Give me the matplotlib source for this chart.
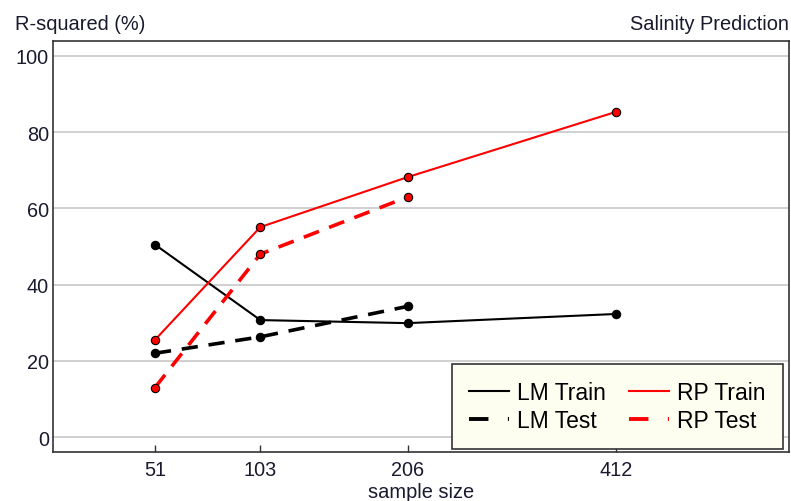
import numpy as np
import matplotlib.pyplot as plt
from matplotlib.lines import Line2D

plt.rcParams['font.family'] = ['Liberation Sans', 'DejaVu Sans']

# sample sizes and R-squared (%) for each model / split
sample_size = [51, 103, 206, 412]
lm_train = [50.5, 30.7, 29.9, 32.3]
lm_test = [22.0, 26.3, 34.3]
rp_train = [25.5, 55.1, 68.2, 85.3]
rp_test = [13.0, 48.0, 63.0]

fig = plt.figure(figsize=(7.91, 5.02), dpi=100)
ax = fig.add_axes([53 / 791, 1 - 453 / 502, 736 / 791, 411 / 502])

ax.set_xscale('function', functions=(np.sqrt, np.square))
ax.set_xlim(17.9, 637)
ax.set_ylim(-3.9, 103.9)

for y in range(0, 101, 20):
    ax.axhline(y, color='#c8c8c8', lw=1.2, zorder=0)

dash = (4.5, 3)
mk = dict(marker='o', markersize=6, markeredgecolor='black', markeredgewidth=0.8)
ax.plot(sample_size, lm_train, color='black', lw=1.5, markerfacecolor='black', **mk)
ax.plot(sample_size[:3], lm_test, color='black', lw=2.6, dashes=dash,
        markerfacecolor='black', **mk)
ax.plot(sample_size, rp_train, color='red', lw=1.5, markerfacecolor='red', **mk)
ax.plot(sample_size[:3], rp_test, color='red', lw=2.6, dashes=dash,
        markerfacecolor='red', **mk)

ax.set_xticks(sample_size)
ax.set_xticklabels([str(s) for s in sample_size])
ax.minorticks_off()
ax.set_yticks(range(0, 101, 20))
ax.tick_params(axis='x', direction='in', length=5, width=1, labelsize=14.3,
               colors='#333333', pad=6)
ax.tick_params(axis='y', length=0, labelsize=14.3, pad=3)
for lbl in ax.get_xticklabels() + ax.get_yticklabels():
    lbl.set_color('#1a1a2e')

for side in ['left', 'right', 'top', 'bottom']:
    ax.spines[side].set_color('#333333')
    ax.spines[side].set_linewidth(1.2)

fig.text(15 / 791, 1 - 24 / 502, 'R-squared (%)', fontsize=14.4, va='center',
         ha='left', color='#1a1a2e')
fig.text(789 / 791, 1 - 24 / 502, 'Salinity Prediction', fontsize=14.4,
         va='center', ha='right', color='#1a1a2e')
ax.set_xlabel('sample size', fontsize=14.4, color='#1a1a2e', labelpad=2)

handles = [
    Line2D([], [], color='black', lw=1.5),
    Line2D([], [], color='black', lw=2.8, dashes=(5, 5)),
    Line2D([], [], color='red', lw=1.5),
    Line2D([], [], color='red', lw=2.8, dashes=(5, 5)),
]
labels = ['LM Train', 'LM Test', 'RP Train', 'RP Test']
leg = ax.legend(handles, labels, ncol=2, loc='lower right',
                bbox_to_anchor=(783 / 791, 1 - 450 / 502), bbox_transform=fig.transFigure,
                fontsize=16.5, frameon=True, fancybox=False, handlelength=1.75,
                handletextpad=0.35, columnspacing=1.0, borderpad=0.75,
                labelspacing=0.2, borderaxespad=0)
leg.get_frame().set_facecolor('#fdfdf0')
leg.get_frame().set_edgecolor('#333333')
leg.get_frame().set_linewidth(1.2)
leg.get_frame().set_alpha(1)

fig.savefig('out.png', dpi=100)
